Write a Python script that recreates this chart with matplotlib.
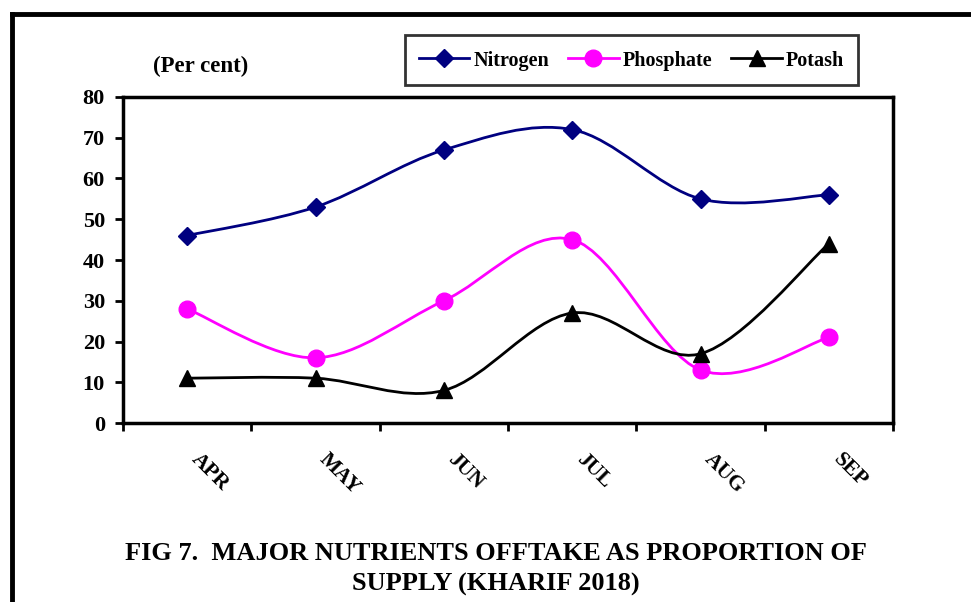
import matplotlib
matplotlib.use("Agg")
import matplotlib.pyplot as plt
from matplotlib.path import Path
from matplotlib.patches import PathPatch
from matplotlib.lines import Line2D
from matplotlib.transforms import ScaledTranslation
import numpy as np

months = ["APR", "MAY", "JUN", "JUL", "AUG", "SEP"]
nitrogen = [46, 53, 67, 72, 55, 56]
phosphate = [28, 16, 30, 45, 13, 21]
potash = [11, 11, 8, 27, 17, 44]

plt.rcParams["font.family"] = ["Liberation Serif", "DejaVu Serif"]
plt.rcParams["font.weight"] = "bold"


def smooth_path(x, y):
    # Excel-style smoothed line: Catmull-Rom segments as cubic Bezier curves
    pts = np.column_stack([x, y]).astype(float)
    ext = np.vstack([pts[0], pts, pts[-1]])
    verts = [pts[0]]
    codes = [Path.MOVETO]
    for i in range(len(pts) - 1):
        p0, p1, p2, p3 = ext[i], ext[i + 1], ext[i + 2], ext[i + 3]
        verts += [p1 + (p2 - p0) / 6, p2 - (p3 - p1) / 6, p2]
        codes += [Path.CURVE4] * 3
    return Path(verts, codes)


fig = plt.figure(figsize=(9.71, 6.02), dpi=100)
ax = fig.add_axes([0.1267, 0.2973, 0.7930, 0.5416])

x = np.arange(len(months))
series = [
    ("Nitrogen", nitrogen, "#000080", "D", 9),
    ("Phosphate", phosphate, "#ff00ff", "o", 12),
    ("Potash", potash, "#000000", "^", 12),
]
handles = []
for name, vals, color, marker, ms in series:
    ax.add_patch(PathPatch(smooth_path(x, vals), facecolor="none", edgecolor=color, lw=2, zorder=2))
    ax.plot(x, vals, linestyle="none", marker=marker, color=color, markersize=ms, zorder=3)
    handles.append(Line2D([], [], color=color, lw=2, marker=marker, markersize=ms, label=name))

ax.set_xlim(-0.5, len(months) - 0.5)
ax.set_ylim(0, 80)
ax.set_yticks(range(0, 81, 10))
ax.set_xticks(np.arange(-0.5, len(months), 1.0))
ax.set_xticklabels([])
ax.set_xticks(x, minor=True)
ax.set_xticklabels(months, minor=True, rotation=-45, ha="left", va="center", rotation_mode="anchor")
ax.tick_params(axis="x", which="minor", length=0, pad=24, labelsize=15.5)
ax.tick_params(axis="both", which="major", direction="out", length=6, width=2, labelsize=16)
ax.tick_params(axis="y", pad=7)
shift = ScaledTranslation(7 / 100, 0, fig.dpi_scale_trans)
for lbl in ax.get_xticklabels(minor=True):
    lbl.set_transform(lbl.get_transform() + shift)
for lbl in ax.get_yticklabels() + ax.get_xticklabels(minor=True):
    lbl.set_fontweight("bold")
for sp in ax.spines.values():
    sp.set_linewidth(2.5)

fig.text(0.2065, 0.889, "(Per cent)", ha="center", va="center", fontsize=16.5, fontweight="bold")

leg = fig.legend(handles=handles, loc="center", bbox_to_anchor=(0.6504, 0.9003), ncol=3,
                 frameon=True, fancybox=False, edgecolor="black", handlelength=2.5,
                 handletextpad=0.2, columnspacing=0.95, borderpad=0.7, handleheight=1.3,
                 prop={"size": 14.5, "weight": "bold"})
leg.get_frame().set_linewidth(2)

fig.text(0.511, 0.055, "FIG 7.  MAJOR NUTRIENTS OFFTAKE AS PROPORTION OF\nSUPPLY (KHARIF 2018)",
         ha="center", va="center", fontsize=19, fontweight="bold", linespacing=1.45)

# outer page frame (only top and left edges visible)
fig.add_artist(Line2D([0.0123, 0.0123], [0, 0.9767], transform=fig.transFigure, color="black", lw=3.5))
fig.add_artist(Line2D([0.0123, 1.0], [0.9767, 0.9767], transform=fig.transFigure, color="black", lw=3.5))

fig.savefig("out.png", dpi=100)
